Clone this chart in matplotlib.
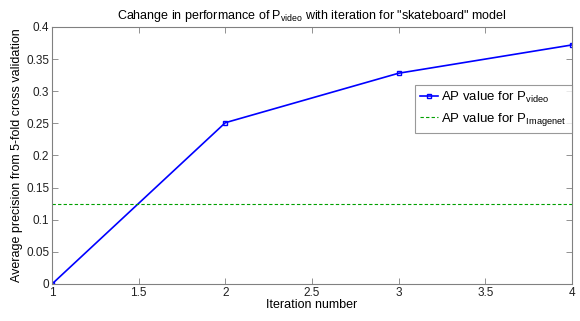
import matplotlib
matplotlib.use("Agg")
import matplotlib.pyplot as plt

plt.rcParams['font.family'] = ['Liberation Sans', 'DejaVu Sans']
plt.rcParams['mathtext.fontset'] = 'custom'
plt.rcParams['mathtext.rm'] = 'Liberation Sans'

# Dados
iterations = [1, 2, 3, 4]
ap_video = [0.0, 0.251, 0.328, 0.372]
ap_imagenet = 0.125

x_ticks = [1, 1.5, 2, 2.5, 3, 3.5, 4]
y_ticks = [0, 0.05, 0.1, 0.15, 0.2, 0.25, 0.3, 0.35, 0.4]
y_labels = ['0', '0.05', '0.1', '0.15', '0.2', '0.25', '0.3', '0.35', '0.4']

fig = plt.figure(figsize=(5.8, 3.21), dpi=100)
ax = fig.add_axes([0.0897, 0.1153, 0.8963, 0.8007])

ax.plot(iterations, ap_video, color='#0000ff', linewidth=1.2, marker='s', markersize=3.5,
        markerfacecolor='none', markeredgecolor='#0000ff', label=r'AP value for P$_{\mathrm{video}}$')
ax.axhline(ap_imagenet, color='#00a000', linestyle='--', linewidth=0.8,
           dashes=(3, 2), label=r'AP value for P$_{\mathrm{Imagenet}}$')

ax.set_xlim(1, 4)
ax.set_ylim(0, 0.4)
ax.set_xticks(x_ticks)
ax.set_xticklabels(['1', '1.5', '2', '2.5', '3', '3.5', '4'])
ax.set_yticks(y_ticks)
ax.set_yticklabels(y_labels)
ax.tick_params(direction='in', length=4, width=0.6, labelsize=8.5, colors='#808080',
               labelcolor='#202020', top=True, right=True, pad=2)
for s in ax.spines.values():
    s.set_color('#808080')
    s.set_linewidth(0.8)

ax.set_xlabel('Iteration number', fontsize=9, labelpad=0)
ax.set_ylabel('Average precision from 5-fold cross validation', fontsize=9, labelpad=2)
ax.set_title(r'Cahange in performance of P$_{\mathrm{video}}$ with iteration for "skateboard" model',
             fontsize=9, pad=6)

leg = ax.legend(loc='upper right', bbox_to_anchor=(1.0, 0.775), fontsize=9.5, fancybox=False,
                handlelength=1.4, handletextpad=0.2, borderpad=0.4, labelspacing=0.45,
                borderaxespad=0)
leg.get_frame().set_edgecolor('#808080')
leg.get_frame().set_linewidth(0.8)

fig.savefig('out.png', dpi=100)
